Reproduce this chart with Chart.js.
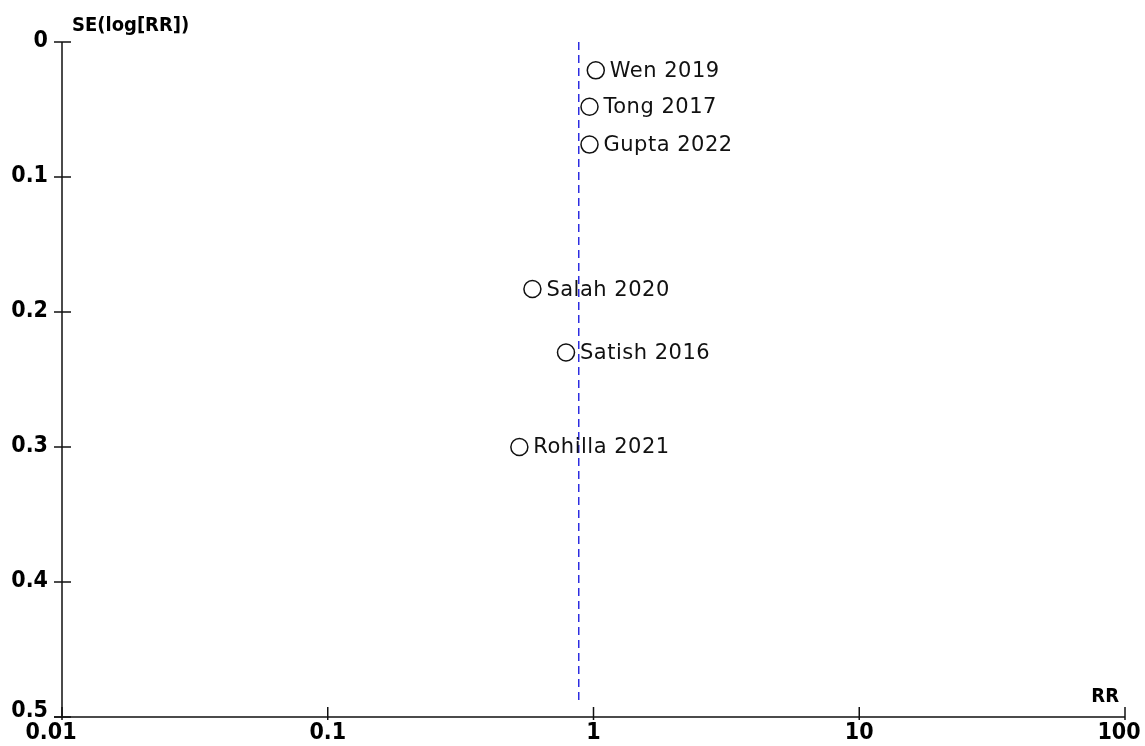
<!DOCTYPE html>
<html>
<head>
<meta charset="utf-8">
<script src="https://cdn.jsdelivr.net/npm/chart.js@4"></script>
<style>
  body { margin: 0; background: #fff; }
  #wrap { width: 1145px; height: 746px; }
</style>
</head>
<body>
<div id="wrap"><canvas id="funnel"></canvas></div>
<script>
// studies, risk ratio and standard error of log(RR)
const studies = ['Wen 2019', 'Tong 2017', 'Gupta 2022', 'Salah 2020', 'Satish 2016', 'Rohilla 2021'];
const rrValues = [1.02, 0.966, 0.966, 0.589, 0.788, 0.526];
const seValues = [0.021, 0.048, 0.076, 0.183, 0.230, 0.300];
const pooledRR = 0.88;
const pooledLine = [0, 0.49];
const xTicks = [0.01, 0.1, 1, 10, 100];
const yTicks = [0, 0.1, 0.2, 0.3, 0.4, 0.5];
const xTickLabels = ['0.01', '0.1', '1', '10', '100'];
const yTickLabels = ['0', '0.1', '0.2', '0.3', '0.4', '0.5'];

const axisFont = 'bold 23px "DejaVu Sans Condensed", "DejaVu Sans", sans-serif';
const titleFont = 'bold 20px "DejaVu Sans Condensed", "DejaVu Sans", sans-serif';

// axes, ticks and study labels drawn on top of chart.js scales
const funnelAxes = {
    id: 'funnelAxes',
    afterDatasetsDraw(chart) {
        const ctx = chart.ctx;
        const xs = chart.scales.x;
        const ys = chart.scales.y;
        const left = chart.chartArea.left;
        const right = chart.chartArea.right;
        const top = chart.chartArea.top;
        const bottom = chart.chartArea.bottom;

        ctx.save();
        ctx.strokeStyle = '#111';
        ctx.lineWidth = 1.5;
        ctx.beginPath();
        ctx.moveTo(left, top);
        ctx.lineTo(left, bottom);
        ctx.moveTo(left - 8, bottom);
        ctx.lineTo(right, bottom);
        ctx.stroke();

        // y ticks
        ctx.font = axisFont;
        ctx.fillStyle = '#000';
        ctx.textAlign = 'right';
        ctx.textBaseline = 'middle';
        yTicks.forEach(function(v, i) {
            let py = ys.getPixelForValue(v);
            ctx.beginPath();
            ctx.moveTo(left - 8, py);
            ctx.lineTo(left + 9, py);
            ctx.stroke();
            let ly = py - 1;
            if (i == yTicks.length - 1) ly = py - 6;
            ctx.fillText(yTickLabels[i], left - 14, ly);
        });

        // x ticks
        ctx.textAlign = 'center';
        ctx.textBaseline = 'top';
        xTicks.forEach(function(v, i) {
            let px = xs.getPixelForValue(v);
            ctx.beginPath();
            ctx.moveTo(px, bottom - 10);
            ctx.lineTo(px, bottom + 3);
            ctx.stroke();
            let lx = px;
            if (i == 0) lx = px - 11;
            if (i == xTicks.length - 1) lx = px - 6;
            ctx.fillText(xTickLabels[i], lx, bottom + 5);
        });

        // axis titles
        ctx.font = titleFont;
        ctx.textAlign = 'left';
        ctx.textBaseline = 'middle';
        ctx.fillText('SE(log[RR])', left + 10, top - 16);
        ctx.textAlign = 'right';
        ctx.fillText('RR', right - 6, bottom - 20);

        // study labels
        const meta = chart.getDatasetMeta(1);
        ctx.font = '21px "DejaVu Sans", sans-serif';
        if ('letterSpacing' in ctx) ctx.letterSpacing = '0.5px';
        ctx.fillStyle = '#111';
        ctx.textAlign = 'left';
        ctx.textBaseline = 'middle';
        meta.data.forEach(function(pt, i) {
            ctx.fillText(studies[i], pt.x + 14, pt.y + 1);
        });
        ctx.restore();
    }
};

const points = rrValues.map(function(r, i) { return { x: r, y: seValues[i] }; });
const pooled = pooledLine.map(function(s) { return { x: pooledRR, y: s }; });

new Chart(document.getElementById('funnel'), {
    type: 'scatter',
    data: {
        datasets: [{
            type: 'line',
            data: pooled,
            borderColor: 'rgb(45, 45, 225)',
            borderWidth: 1.5,
            borderDash: [8, 5],
            pointRadius: 0,
            fill: false
        }, {
            data: points,
            pointRadius: 8.5,
            pointBorderWidth: 1.5,
            pointBorderColor: '#111',
            pointBackgroundColor: 'rgba(255,255,255,0)',
            clip: false
        }]
    },
    options: {
        responsive: true,
        maintainAspectRatio: false,
        animation: false,
        layout: { padding: { left: 62, top: 42, right: 20, bottom: 29 } },
        plugins: {
            legend: { display: false },
            tooltip: { enabled: false }
        },
        scales: {
            x: {
                type: 'logarithmic',
                min: 0.01,
                max: 100,
                display: false
            },
            y: {
                type: 'linear',
                min: 0,
                max: 0.5,
                reverse: true,
                display: false
            }
        }
    },
    plugins: [funnelAxes]
});
</script>
</body>
</html>
